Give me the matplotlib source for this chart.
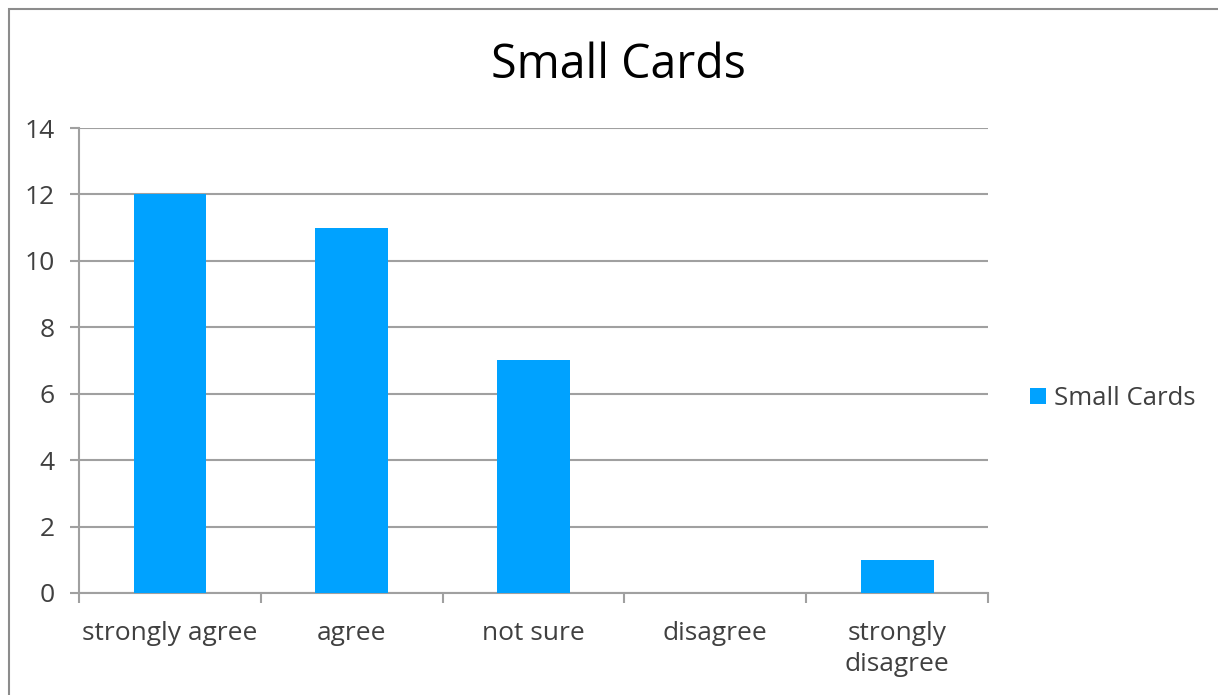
import matplotlib.pyplot as plt
from matplotlib.patches import Rectangle
import numpy as np

plt.rcParams['font.family'] = ['Open Sans', 'DejaVu Sans']

categories = ['strongly agree', 'agree', 'not sure', 'disagree', 'strongly\ndisagree']
small_cards = [12, 11, 7, 0, 1]
y_ticks = [0, 2, 4, 6, 8, 10, 12, 14]

bar_color = '#00A2FF'
grid_color = '#A0A0A0'
text_color = '#404040'

fig = plt.figure(figsize=(12.18, 6.95), dpi=100)
ax = fig.add_axes([0.0649, 0.1468, 0.7463, 0.669])

x = np.arange(len(categories))
ax.bar(x, small_cards, width=0.4, color=bar_color, label='Small Cards', zorder=3)

ax.set_xlim(-0.5, len(categories) - 0.5)
ax.set_ylim(0, 14)
ax.set_yticks(y_ticks)
ax.set_yticklabels([str(v) for v in y_ticks])
ax.yaxis.grid(True, color=grid_color, linewidth=1.5, zorder=0)

ax.set_xticks(x)
ax.set_xticklabels(categories, linespacing=1.35)
ax.set_xticks(np.arange(-0.5, len(categories)), minor=True)
ax.tick_params(axis='x', which='major', length=0, pad=20, labelsize=19, labelcolor=text_color)
ax.tick_params(axis='x', which='minor', length=7, width=1.5, color=grid_color)
ax.tick_params(axis='y', length=6.5, width=1.5, color=grid_color, pad=11,
               labelsize=19, labelcolor=text_color)

for side in ['top', 'right']:
    ax.spines[side].set_visible(False)
for side in ['left', 'bottom']:
    ax.spines[side].set_color(grid_color)
    ax.spines[side].set_linewidth(1.5)

fig.suptitle('Small Cards', x=0.508, y=0.94, fontsize=33.5, color='#000000')

leg = fig.legend(loc='center left', bbox_to_anchor=(0.827, 0.427), frameon=False,
                 fontsize=18.5, handlelength=0.6, handleheight=0.6, handletextpad=0.3)
for t in leg.get_texts():
    t.set_color(text_color)

# chart frame
fig.patches.append(Rectangle((9 / 1218, -0.1), 1.2, 1 - 9 / 695 + 0.1,
                             transform=fig.transFigure, fill=False,
                             edgecolor='#8C8C8C', linewidth=1.5))

fig.savefig('out.png', dpi=100)
